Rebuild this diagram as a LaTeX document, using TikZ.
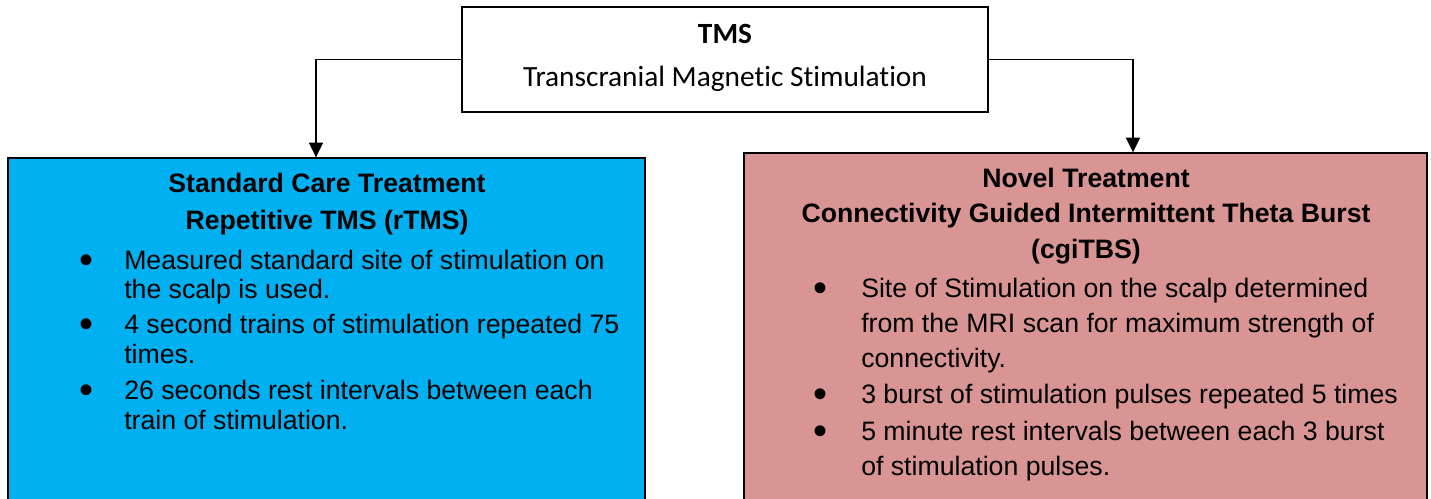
\documentclass[tikz,border=0pt]{standalone}
\usepackage{fontspec}
\setmainfont{Liberation Sans}
\newfontfamily\calibri[Ligatures=NoCommon]{Carlito}
\usetikzlibrary{arrows.meta}
\definecolor{stdblue}{RGB}{0,176,240}
\definecolor{novelpink}{RGB}{217,149,148}
\begin{document}
\begin{tikzpicture}[x=0.75pt,y=-0.75pt,
  box/.style={draw=black, line width=1pt, inner sep=0pt},
  txt/.style={anchor=base, inner sep=0pt, font=\fontsize{20}{24}\selectfont},
  ttl/.style={txt, font=\fontsize{20}{24}\selectfont\bfseries},
  lft/.style={txt, anchor=base west},
  bul/.style={anchor=base, inner sep=0pt, font=\fontsize{30}{34}\selectfont},
  toptxt/.style={anchor=base, inner sep=0pt, font=\calibri\fontsize{22}{26}\selectfont},
  conn/.style={line width=1.1pt, -{Triangle[length=11pt,width=10.5pt]}}]
\useasboundingbox (0,0) rectangle (1431,499);
\clip (0,0) rectangle (1431,499);
% boxes
\node[box, fill=white, minimum width=394.5pt, minimum height=78.75pt] (top) at (725,59.5) {};
\node[box, fill=stdblue, minimum width=477.75pt, minimum height=279pt] (std) at (326.5,344) {};
\node[box, fill=novelpink, minimum width=512.25pt, minimum height=282.75pt] (novel) at (1085.5,341.5) {};
% top texts
\node[toptxt, font=\calibri\fontsize{22}{26}\selectfont\bfseries] (t1) at (725,44) {TMS};
\node[toptxt] (t2) at (725,87) {Transcranial Magnetic Stimulation};
% connectors
\coordinate (lc) at (316,0);
\coordinate (rc) at (1133,0);
\draw[conn] (top.west) -| (lc |- std.north);
\draw[conn] (top.east) -| (rc |- novel.north);
% left box text
\node[ttl] (s1) at (327,193) {Standard Care Treatment};
\node[ttl] (s2) at (327,229) {Repetitive TMS (rTMS)};
\node[bul] (sb1) at (87,273) {•};
\node[bul] (sb2) at (87,337) {•};
\node[bul] (sb3) at (87,403) {•};
\node[lft] (sl1) at (124,269) {Measured standard site of stimulation on};
\node[lft] (sl2) at (124,298) {the scalp is used.};
\node[lft] (sl3) at (124,333) {4 second trains of stimulation repeated 75};
\node[lft] (sl4) at (124,363) {times.};
\node[lft] (sl5) at (124,399) {26 seconds rest intervals between each};
\node[lft] (sl6) at (124,429) {train of stimulation.};
% right box text
\node[ttl] (n1) at (1086,188) {Novel Treatment};
\node[ttl] (n2) at (1086,223) {Connectivity Guided Intermittent Theta Burst};
\node[ttl] (n3) at (1086,258) {(cgiTBS)};
\node[bul] (nb1) at (820,301) {•};
\node[bul] (nb2) at (820,407) {•};
\node[bul] (nb3) at (820,444) {•};
\node[lft] (nl1) at (861,297) {Site of Stimulation on the scalp determined};
\node[lft] (nl2) at (861,332) {from the MRI scan for maximum strength of};
\node[lft] (nl3) at (861,367) {connectivity.};
\node[lft] (nl4) at (861,403) {3 burst of stimulation pulses repeated 5 times};
\node[lft] (nl5) at (861,440) {5 minute rest intervals between each 3 burst};
\node[lft] (nl6) at (861,475) {of stimulation pulses.};
\end{tikzpicture}
\end{document}
